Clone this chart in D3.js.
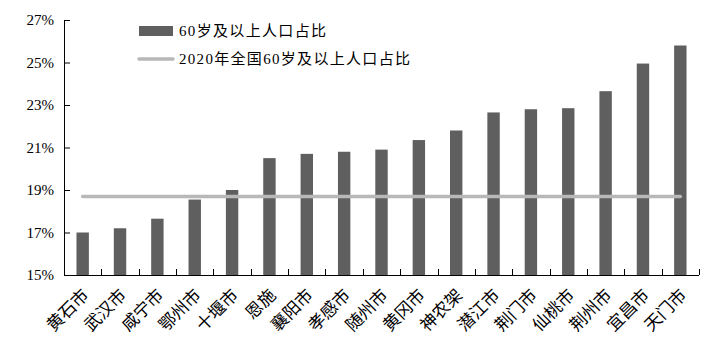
<!DOCTYPE html>
<html><head><meta charset="utf-8">
<script src="https://cdn.jsdelivr.net/npm/d3@7"></script>
<style>body{margin:0;background:#fff}</style></head>
<body><svg id="c" width="723" height="361"></svg>
<script>
const categories = ["黄石市","武汉市","咸宁市","鄂州市","十堰市","恩施","襄阳市","孝感市","随州市","黄冈市","神农架","潜江市","荆门市","仙桃市","荆州市","宜昌市","天门市"];
const values = [17.0,17.2,17.65,18.55,19.0,20.5,20.7,20.8,20.9,21.35,21.8,22.65,22.8,22.85,23.65,24.95,25.8];
const nationalValue = 18.7;
const yTicks = [15,17,19,21,23,25,27];
const legendLabels = ["60岁及以上人口占比","2020年全国60岁及以上人口占比"];

const svg = d3.select("#c");
const L = 64, R = 699, T = 20, B = 275;
const xb = d3.scaleBand().domain(categories).range([L, R]);
const y = d3.scaleLinear().domain([15, 27]).range([B, T]);
const cjk = "'Liberation Serif','Noto Sans CJK SC',serif";

// bars
svg.selectAll("rect.bar").data(values).enter().append("rect")
  .attr("x", (d,i)=>xb(categories[i]) + xb.bandwidth()/2 - 6.2)
  .attr("width", 12.4)
  .attr("y", d=>y(d)).attr("height", d=>B - y(d))
  .attr("fill", "#5f5f5f");

// national line
svg.append("line")
  .attr("x1", xb(categories[0]) + xb.bandwidth()/2)
  .attr("x2", xb(categories[categories.length-1]) + xb.bandwidth()/2)
  .attr("y1", y(nationalValue)).attr("y2", y(nationalValue))
  .attr("stroke", "#b8b8b8").attr("stroke-width", 3.5).attr("stroke-linecap","round");

// y axis
const ya = svg.append("g").attr("transform", `translate(${L},0)`)
  .call(d3.axisRight(y).tickValues(yTicks).tickSize(6).tickFormat(d=>d+"%"));
ya.select(".domain").attr("d", `M0.5,${T}V${B}`).attr("stroke","#000");
ya.selectAll(".tick line").attr("stroke","#000");
ya.selectAll(".tick text").attr("x", -10).attr("text-anchor","end")
  .attr("font-family","'Liberation Serif',serif").attr("font-size",15).attr("fill","#000");

// x axis
const xa = svg.append("g").attr("transform", `translate(0,${B})`);
xa.append("line").attr("x1", L).attr("x2", R).attr("y1", 0.5).attr("y2", 0.5).attr("stroke","#000");
const bounds = categories.map(c=>xb(c)).concat([R]);
xa.selectAll("line.t").data(bounds.slice(1)).enter().append("line")
  .attr("x1", d=>Math.round(d)+0.5).attr("x2", d=>Math.round(d)+0.5).attr("y1", 0).attr("y2", -6).attr("stroke","#000");
xa.selectAll("text").data(categories).enter().append("text")
  .attr("transform", d=>`translate(${xb(d)+xb.bandwidth()/2+3},17) rotate(-45)`)
  .attr("text-anchor","end").attr("dy","0.35em")
  .attr("font-family", cjk).attr("font-size", 17).attr("fill","#000")
  .text(d=>d);

// legend
const lg = svg.append("g");
lg.append("rect").attr("x",139).attr("y",26).attr("width",34).attr("height",10).attr("fill","#5f5f5f");
lg.append("line").attr("x1",139).attr("x2",173).attr("y1",59).attr("y2",59).attr("stroke","#b8b8b8").attr("stroke-width",3.5).attr("stroke-linecap","round");
lg.append("text").attr("x",179).attr("y",31).attr("dy","0.35em").attr("font-family",cjk).attr("font-size",15)
  .attr("textLength",147).attr("lengthAdjust","spacing").text(legendLabels[0]);
lg.append("text").attr("x",179).attr("y",59).attr("dy","0.35em").attr("font-family",cjk).attr("font-size",15)
  .attr("textLength",231).attr("lengthAdjust","spacing").text(legendLabels[1]);
</script></body></html>
